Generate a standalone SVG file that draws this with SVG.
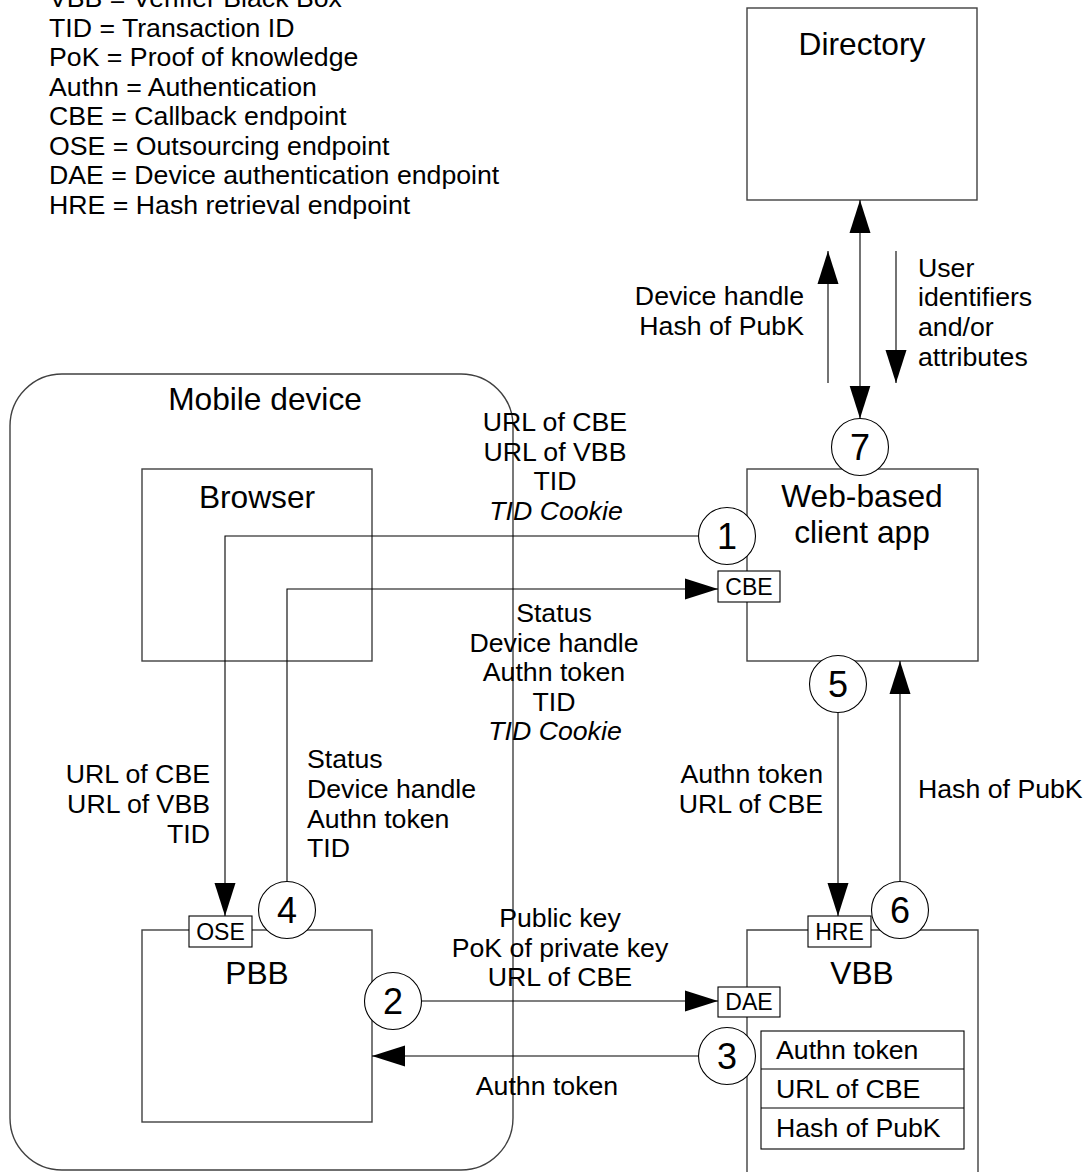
<svg xmlns="http://www.w3.org/2000/svg" width="1091" height="1172" viewBox="0 0 1091 1172">
<style>
text{font-family:"Liberation Sans",Arial,sans-serif;fill:#000}
.lg{font-size:26.7px}
.t{font-size:31.7px;text-anchor:middle}
.n{font-size:36px;text-anchor:middle}
.ep{font-size:23px;text-anchor:middle}
.c{text-anchor:middle}
.r{text-anchor:end}
.i{font-style:italic}
.box{fill:#fff;stroke:#404040;stroke-width:1.4}
.open{fill:none;stroke:#404040;stroke-width:1.4}
.circ{fill:#fff;stroke:#000;stroke-width:1.1}
.epb{fill:#fff;stroke:#000;stroke-width:1.1}
.ln{fill:none;stroke:#000;stroke-width:1.1}
</style>
<defs>
<marker id="ah" markerUnits="userSpaceOnUse" markerWidth="34" markerHeight="22" refX="33" refY="11" orient="auto">
<path d="M0,0.5 L33,11 L0,21.5 z" fill="#000"/>
</marker>
<marker id="ahs" markerUnits="userSpaceOnUse" markerWidth="34" markerHeight="22" refX="33" refY="11" orient="auto-start-reverse">
<path d="M0,0.5 L33,11 L0,21.5 z" fill="#000"/>
</marker>
</defs>

<g id="legend" class="lg">
<text x="49" y="7">VBB = Verifier Black Box</text>
<text x="49" y="36.5">TID = Transaction ID</text>
<text x="49" y="66">PoK = Proof of knowledge</text>
<text x="49" y="95.5">Authn = Authentication</text>
<text x="49" y="125">CBE = Callback endpoint</text>
<text x="49" y="154.5">OSE = Outsourcing endpoint</text>
<text x="49" y="184">DAE = Device authentication endpoint</text>
<text x="49" y="213.5">HRE = Hash retrieval endpoint</text>
</g>

<g id="mobile-device">
<rect x="10" y="374" width="503" height="796" rx="52" ry="52" class="open"/>
<text class="t" x="265" y="410">Mobile device</text>
</g>

<g id="directory">
<rect x="747" y="8" width="230" height="192" class="box"/>
<text class="t" x="862" y="55">Directory</text>
</g>

<g id="browser">
<rect x="142" y="469" width="230" height="192" class="open"/>
<text class="t" x="257" y="508">Browser</text>
</g>

<g id="web-client-app">
<rect x="747" y="469" width="231" height="192" class="box"/>
<text class="t" x="862" y="507">Web-based</text>
<text class="t" x="862" y="543">client app</text>
</g>

<g id="pbb">
<rect x="142" y="930" width="230" height="192" class="box"/>
<text class="t" x="257" y="984">PBB</text>
</g>

<g id="vbb">
<path d="M747,1180 V930 H978 V1180" class="box"/>
<text class="t" x="862" y="984">VBB</text>
<g id="vbb-table">
<rect x="761" y="1031" width="203" height="118" class="epb"/>
<line x1="761" y1="1069" x2="964" y2="1069" class="ln"/>
<line x1="761" y1="1108" x2="964" y2="1108" class="ln"/>
<text class="lg" x="776" y="1059">Authn token</text>
<text class="lg" x="776" y="1098">URL of CBE</text>
<text class="lg" x="776" y="1137">Hash of PubK</text>
</g>
</g>

<g id="connectors">
<path d="M860,418.5 V200" class="ln" marker-start="url(#ahs)" marker-end="url(#ahs)"/>
<path d="M828,383 V251" class="ln" marker-end="url(#ah)"/>
<path d="M896,251 V383" class="ln" marker-end="url(#ah)"/>
<path d="M698.5,536 H225 V916" class="ln" marker-end="url(#ah)"/>
<path d="M287,881.5 V589 H718" class="ln" marker-end="url(#ah)"/>
<path d="M421.5,1001 H718" class="ln" marker-end="url(#ah)"/>
<path d="M698.5,1056 H372" class="ln" marker-end="url(#ah)"/>
<path d="M838,712.5 V916" class="ln" marker-end="url(#ah)"/>
<path d="M900,881.5 V661" class="ln" marker-end="url(#ah)"/>
</g>

<g id="labels" class="lg">
<text class="r" x="804" y="305">Device handle</text>
<text class="r" x="804" y="335">Hash of PubK</text>
<text x="918" y="277">User</text>
<text x="918" y="306">identifiers</text>
<text x="918" y="336">and/or</text>
<text x="918" y="366">attributes</text>
<text class="c" x="555" y="431">URL of CBE</text>
<text class="c" x="555" y="460.5">URL of VBB</text>
<text class="c" x="555" y="490">TID</text>
<text class="c i" x="556" y="519.5">TID Cookie</text>
<text class="c" x="554" y="622">Status</text>
<text class="c" x="554" y="651.5">Device handle</text>
<text class="c" x="554" y="681">Authn token</text>
<text class="c" x="554" y="710.5">TID</text>
<text class="c i" x="555" y="740">TID Cookie</text>
<text class="r" x="210" y="783">URL of CBE</text>
<text class="r" x="210" y="813">URL of VBB</text>
<text class="r" x="210" y="842.5">TID</text>
<text x="307" y="768">Status</text>
<text x="307" y="798">Device handle</text>
<text x="307" y="828">Authn token</text>
<text x="307" y="857">TID</text>
<text class="r" x="823" y="783">Authn token</text>
<text class="r" x="823" y="813">URL of CBE</text>
<text x="918" y="798">Hash of PubK</text>
<text class="c" x="560" y="927">Public key</text>
<text class="c" x="560" y="956.5">PoK of private key</text>
<text class="c" x="560" y="986">URL of CBE</text>
<text class="c" x="547" y="1095">Authn token</text>
</g>

<g id="endpoint-cbe"><rect x="718" y="571" width="62" height="31" class="epb"/><text class="ep" x="749" y="594.5">CBE</text></g>
<g id="endpoint-ose"><rect x="189" y="916" width="63" height="31" class="epb"/><text class="ep" x="220.5" y="939.5">OSE</text></g>
<g id="endpoint-hre"><rect x="808" y="916" width="63" height="31" class="epb"/><text class="ep" x="839.5" y="939.5">HRE</text></g>
<g id="endpoint-dae"><rect x="718" y="987" width="62" height="30" class="epb"/><text class="ep" x="749" y="1010">DAE</text></g>

<g id="step-1"><circle cx="727" cy="536" r="28.5" class="circ"/><text class="n" x="727" y="549">1</text></g>
<g id="step-2"><circle cx="393" cy="1001" r="28.5" class="circ"/><text class="n" x="393" y="1014">2</text></g>
<g id="step-3"><circle cx="727" cy="1056" r="28.5" class="circ"/><text class="n" x="727" y="1069">3</text></g>
<g id="step-4"><circle cx="287" cy="910" r="28.5" class="circ"/><text class="n" x="287" y="923">4</text></g>
<g id="step-5"><circle cx="838" cy="684" r="28.5" class="circ"/><text class="n" x="838" y="697">5</text></g>
<g id="step-6"><circle cx="900" cy="910" r="28.5" class="circ"/><text class="n" x="900" y="923">6</text></g>
<g id="step-7"><circle cx="860" cy="447" r="28.5" class="circ"/><text class="n" x="860" y="460">7</text></g>
</svg>
